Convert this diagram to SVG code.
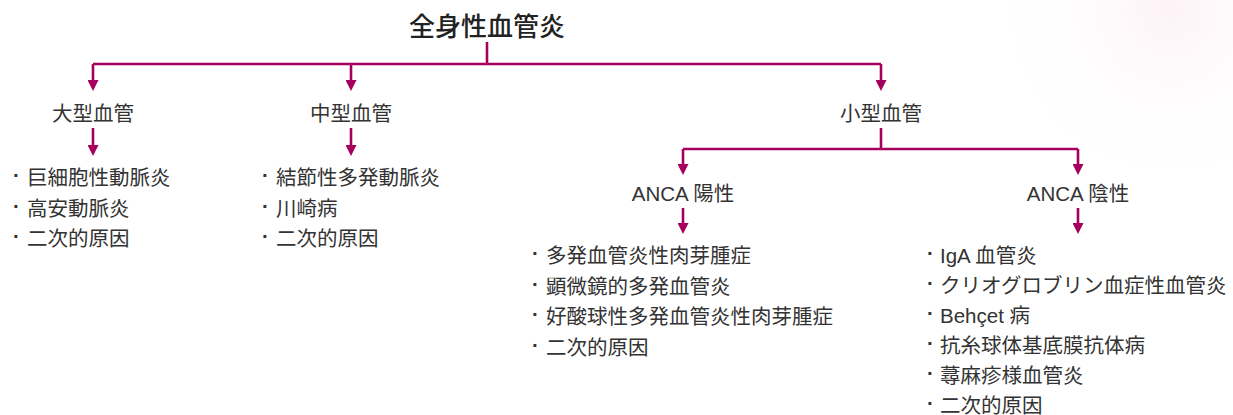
<svg xmlns="http://www.w3.org/2000/svg" width="1233" height="415" viewBox="0 0 1233 415">
  <style>
    .t { font-family: "Liberation Sans", "Noto Sans CJK JP", sans-serif; font-size: 20.5px; fill: #333333; }
    .d { font-weight: bold; }
    .title { font-family: "Liberation Sans", "Noto Sans CJK JP", sans-serif; font-size: 26px; font-weight: 500; fill: #222222; }
    .c { fill: none; stroke: #a5005e; stroke-width: 2.6; }
  </style>
  <defs>
    <marker id="ah" viewBox="0 0 10 10" refX="6.4" refY="5" markerWidth="11" markerHeight="11" markerUnits="userSpaceOnUse" orient="auto">
      <path d="M0,0 L10,5 L0,10 z" fill="#a5005e"/>
    </marker>
    <radialGradient id="bg" cx="1170" cy="10" r="180" gradientUnits="userSpaceOnUse">
      <stop offset="0" stop-color="#fdf3f6" stop-opacity="1"/>
      <stop offset="1" stop-color="#ffffff" stop-opacity="0"/>
    </radialGradient>
  </defs>
  <rect width="1233" height="415" fill="#ffffff"/>
  <rect x="950" y="0" width="283" height="220" fill="url(#bg)"/>

  <g id="connectors">
    <path class="c" d="M487 42 V64"/>
    <path class="c" d="M93 64 H881"/>
    <path class="c" d="M93 64 V87" marker-end="url(#ah)"/>
    <path class="c" d="M351 64 V87" marker-end="url(#ah)"/>
    <path class="c" d="M881 64 V87" marker-end="url(#ah)"/>
    <path class="c" d="M93 128 V152" marker-end="url(#ah)"/>
    <path class="c" d="M351 128 V152" marker-end="url(#ah)"/>
    <path class="c" d="M881 128 V149"/>
    <path class="c" d="M683 149 H1078"/>
    <path class="c" d="M683 149 V171" marker-end="url(#ah)"/>
    <path class="c" d="M1078 149 V171" marker-end="url(#ah)"/>
    <path class="c" d="M683 208 V230" marker-end="url(#ah)"/>
    <path class="c" d="M1078 208 V230" marker-end="url(#ah)"/>
  </g>

  <g id="root">
    <text class="title" x="487" y="36" text-anchor="middle">全身性血管炎</text>
  </g>
  <g id="large">
    <text class="t" x="93" y="121" text-anchor="middle">大型血管</text>
  </g>
  <g id="medium">
    <text class="t" x="351" y="121" text-anchor="middle">中型血管</text>
  </g>
  <g id="small">
    <text class="t" x="881" y="121" text-anchor="middle">小型血管</text>
  </g>
  <g id="anca-pos">
    <text class="t" x="683" y="201" text-anchor="middle">ANCA 陽性</text>
  </g>
  <g id="anca-neg">
    <text class="t" x="1078" y="201" text-anchor="middle">ANCA 陰性</text>
  </g>

  <g id="large-list">
    <text class="t" y="185"><tspan class="d" x="13" dy="-3">·</tspan><tspan x="27" dy="3">巨細胞性動脈炎</tspan></text>
    <text class="t" y="216"><tspan class="d" x="13" dy="-3">·</tspan><tspan x="27" dy="3">高安動脈炎</tspan></text>
    <text class="t" y="246"><tspan class="d" x="13" dy="-3">·</tspan><tspan x="27" dy="3">二次的原因</tspan></text>
  </g>
  <g id="medium-list">
    <text class="t" y="185"><tspan class="d" x="262" dy="-3">·</tspan><tspan x="276" dy="3">結節性多発動脈炎</tspan></text>
    <text class="t" y="216"><tspan class="d" x="262" dy="-3">·</tspan><tspan x="276" dy="3">川崎病</tspan></text>
    <text class="t" y="246"><tspan class="d" x="262" dy="-3">·</tspan><tspan x="276" dy="3">二次的原因</tspan></text>
  </g>
  <g id="anca-pos-list">
    <text class="t" y="263"><tspan class="d" x="532" dy="-3">·</tspan><tspan x="546" dy="3">多発血管炎性肉芽腫症</tspan></text>
    <text class="t" y="293.5"><tspan class="d" x="532" dy="-3">·</tspan><tspan x="546" dy="3">顕微鏡的多発血管炎</tspan></text>
    <text class="t" y="324"><tspan class="d" x="532" dy="-3">·</tspan><tspan x="546" dy="3">好酸球性多発血管炎性肉芽腫症</tspan></text>
    <text class="t" y="354.5"><tspan class="d" x="532" dy="-3">·</tspan><tspan x="546" dy="3">二次的原因</tspan></text>
  </g>
  <g id="anca-neg-list">
    <text class="t" y="263"><tspan class="d" x="927" dy="-3">·</tspan><tspan x="940" dy="3">IgA 血管炎</tspan></text>
    <text class="t" y="293"><tspan class="d" x="927" dy="-3">·</tspan><tspan x="940" dy="3">クリオグロブリン血症性血管炎</tspan></text>
    <text class="t" y="323"><tspan class="d" x="927" dy="-3">·</tspan><tspan x="940" dy="3">Behçet 病</tspan></text>
    <text class="t" y="353"><tspan class="d" x="927" dy="-3">·</tspan><tspan x="940" dy="3">抗糸球体基底膜抗体病</tspan></text>
    <text class="t" y="383"><tspan class="d" x="927" dy="-3">·</tspan><tspan x="940" dy="3">蕁麻疹様血管炎</tspan></text>
    <text class="t" y="413"><tspan class="d" x="927" dy="-3">·</tspan><tspan x="940" dy="3">二次的原因</tspan></text>
  </g>
</svg>
